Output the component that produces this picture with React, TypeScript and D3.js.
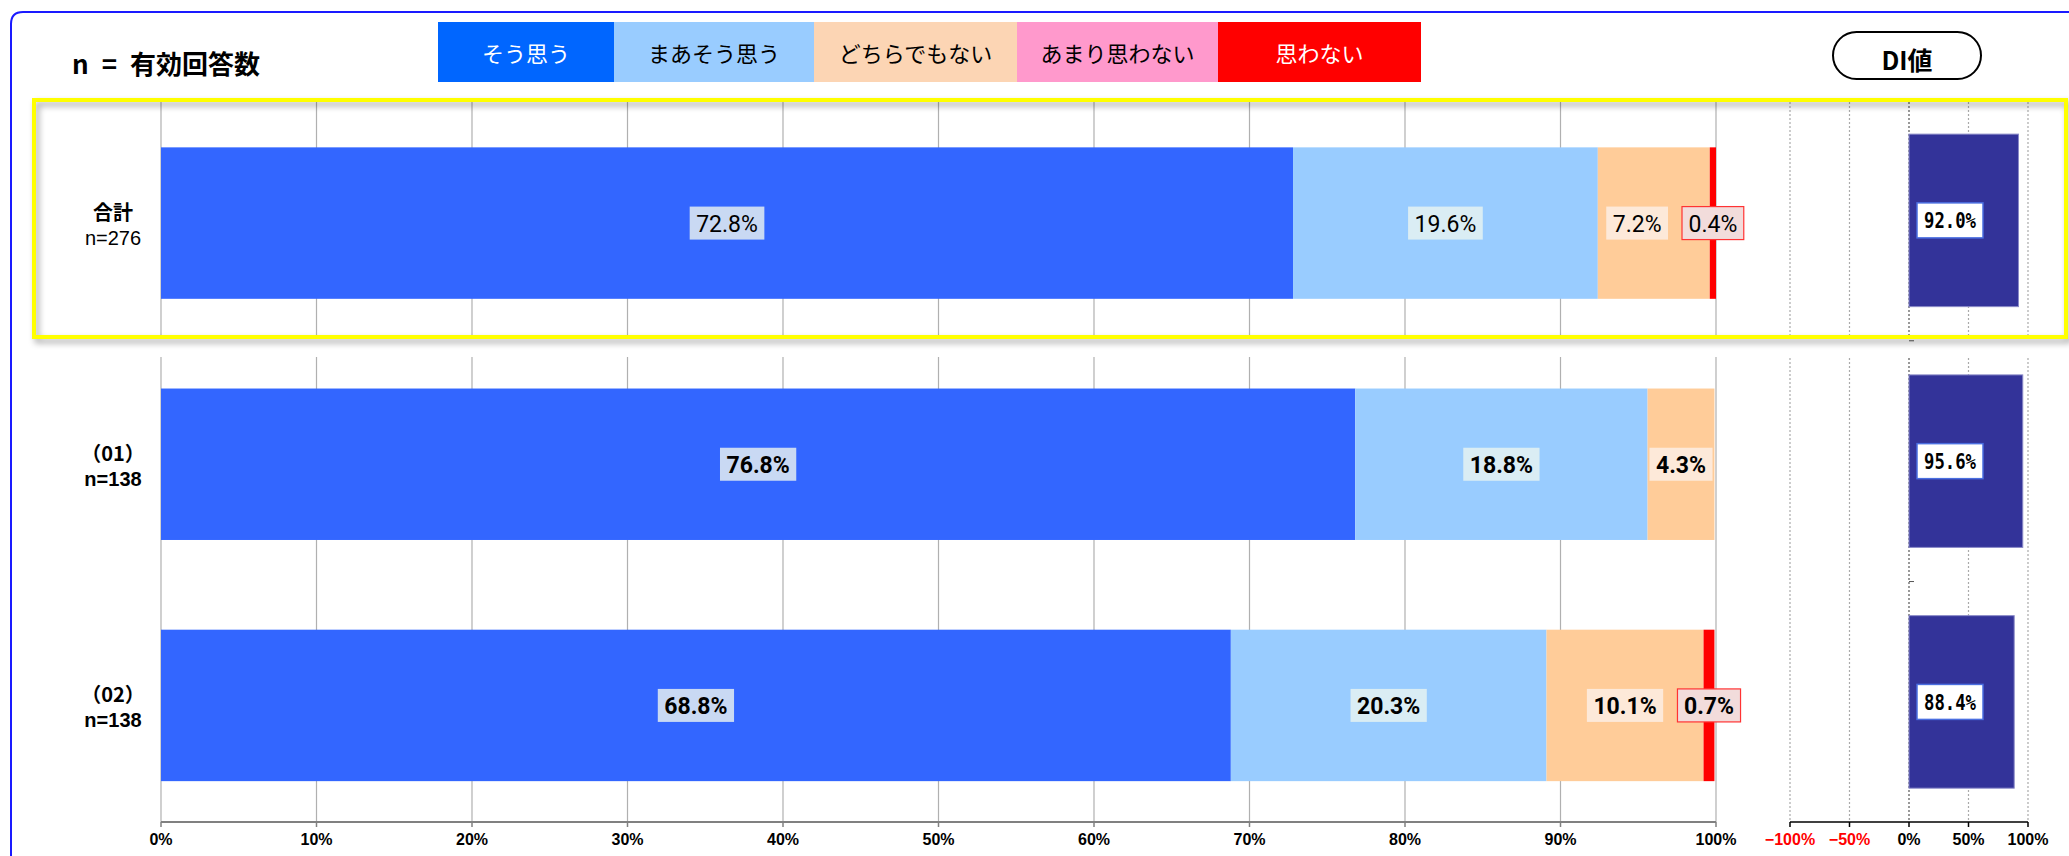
import React from 'react';
import * as d3 from 'd3';

// ---- data ----
const categories = ['合計', '（01）', '（02）'];
const sampleSizes = ['n=276', 'n=138', 'n=138'];
const seriesNames = ['そう思う', 'まあそう思う', 'どちらでもない', 'あまり思わない', '思わない'];
const soOmou = [72.8, 76.8, 68.8];
const maaSoOmou = [19.6, 18.8, 20.3];
const dochiraDemoNai = [7.2, 4.3, 10.1];
const amariOmowanai = [0, 0, 0];
const omowanai = [0.4, 0, 0.7];
const diValues = [92.0, 95.6, 88.4];
const mainTicks = [0, 10, 20, 30, 40, 50, 60, 70, 80, 90, 100];
const diTicks = [-100, -50, 0, 50, 100];
const diTickLabels = ['−100%', '−50%', '0%', '50%', '100%'];

const seriesValues = [soOmou, maaSoOmou, dochiraDemoNai, amariOmowanai, omowanai];

// ---- styles ----
const barColors = ['#3366ff', '#99ccff', '#ffcc99', '#ff99cc', '#ff0000'];
const legendColors = ['#0066ff', '#99ccff', '#fcd5b4', '#ff99cc', '#ff0000'];
const legendTextColors = ['#ffffff', '#000000', '#000000', '#000000', '#ffffff'];
const labelFills = ['#c9d9f3', '#daedf4', '#fde9d9', '#fbe0ee', '#f2dcdb'];
const labelStrokes = ['none', 'none', 'none', 'none', '#ff3333'];
const legendEdges = [438, 614, 814, 1017, 1218, 1421];

const CJK = '"Noto Sans CJK JP", "Noto Sans", sans-serif';
const NUM = 'Roboto, "Noto Sans", sans-serif';
const MONO = '"DejaVu Sans Mono", "Liberation Mono", monospace';
const AX = '"Liberation Sans", Arial, sans-serif';

let ctx: CanvasRenderingContext2D | null = null;
function textWidth(text: string, font: string, fallbackEm: number, size: number) {
  if (typeof document !== 'undefined') {
    if (!ctx) ctx = document.createElement('canvas').getContext('2d');
    if (ctx) {
      ctx.font = font;
      return ctx.measureText(text).width;
    }
  }
  return text.length * fallbackEm * size;
}

export default function App() {
  const W = 2069;
  const H = 856;

  const x = d3.scaleLinear().domain([0, 100]).range([161, 1716]);
  const xd = d3.scaleLinear().domain([-100, 100]).range([1790, 2028]);
  const y = d3.scaleBand<string>().domain(categories).range([102.5, 826]).paddingInner(0.372).paddingOuter(0.186);
  const yd = d3.scaleBand<string>().domain(categories).range([100, 822.3]).paddingInner(0.2835).paddingOuter(0.14175);

  const axisY = 822;
  const gridTop = 102;
  const gapTop = 338;
  const gapBottom = 357;

  const stackData = categories.map((c, i) => {
    const row: any = { cat: c };
    seriesNames.forEach((s, k) => (row[s] = seriesValues[k][i]));
    return row;
  });
  const stack = d3.stack<any>().keys(seriesNames)(stackData);

  const labelSize = 23;
  const rows = categories.map((c, i) => {
    const bold = i > 0;
    const font = `${bold ? 'bold ' : ''}${labelSize}px Roboto`;
    const boxes: any[] = [];
    stack.forEach((layer, k) => {
      const v = seriesValues[k][i];
      if (v <= 0) return;
      const [a, b] = layer[i];
      const cx = (x(a) + x(b)) / 2;
      const text = v.toFixed(1) + '%';
      const w = textWidth(text, font, 0.55, labelSize) + 13;
      boxes.push({ k, text, cx, w, x0: cx - w / 2, x1: cx + w / 2 });
    });
    for (let j = boxes.length - 2; j >= 0; j--) {
      const limit = boxes[j + 1].x0 - 14;
      if (boxes[j].x1 > limit) {
        const d = boxes[j].x1 - limit;
        boxes[j].x0 -= d;
        boxes[j].x1 -= d;
        boxes[j].cx -= d;
      }
    }
    return { boxes, bold };
  });

  const frameColor = '#1a1aff';

  return (
    <svg width={W} height={H} style={{ position: 'absolute', left: 0, top: 0, background: '#fff' }}>
      <defs>
        <filter id="shadow" x="-5%" y="-20%" width="110%" height="140%">
          <feDropShadow dx="3" dy="4" stdDeviation="3" floodColor="#000" floodOpacity="0.35" />
        </filter>
      </defs>
      <rect x={0} y={0} width={W} height={H} fill="#fff" />

      {/* outer frame */}
      <path d={`M11,${H + 20} L11,24 Q11,12 23,12 L${W + 20},12`} fill="none" stroke={frameColor} strokeWidth={2} />

      {/* title */}
      <text x={72} y={62} fontFamily={CJK} fontWeight="bold" fontSize={26} dominantBaseline="central" fill="#000">
        {'n\u2002=\u2002有効回答数'}
      </text>

      {/* legend */}
      {seriesNames.map((s, k) => (
        <g key={s}>
          <rect x={legendEdges[k]} y={22} width={legendEdges[k + 1] - legendEdges[k]} height={60} fill={legendColors[k]} />
          <text
            x={(legendEdges[k] + legendEdges[k + 1]) / 2}
            y={52}
            textAnchor="middle"
            dominantBaseline="central"
            fontFamily={CJK}
            fontSize={22}
            fill={legendTextColors[k]}
          >
            {s}
          </text>
        </g>
      ))}

      {/* DI pill */}
      <rect x={1833} y={32} width={148} height={47} rx={23.5} fill="#fff" stroke="#000" strokeWidth={2} />
      <text x={1907} y={59} textAnchor="middle" dominantBaseline="central" fontFamily={CJK} fontWeight="bold" fontSize={25}>
        DI値
      </text>

      {/* main gridlines */}
      {mainTicks.map((t) => (
        <line key={'g' + t} x1={x(t)} x2={x(t)} y1={gridTop} y2={axisY} stroke="#b0b0b0" strokeWidth={1.2} />
      ))}
      {/* DI gridlines */}
      {diTicks.map((t) => (
        <line
          key={'dg' + t}
          x1={xd(t)}
          x2={xd(t)}
          y1={gridTop}
          y2={axisY}
          stroke={t === 0 ? '#555' : '#aaa'}
          strokeWidth={1.2}
          strokeDasharray="2,2"
        />
      ))}

      {/* gap under highlight box */}
      <rect x={150} y={gapTop} width={1920} height={gapBottom - gapTop} fill="#fff" />

      {/* main bars */}
      {stack.map((layer, k) => (
        <g key={'s' + k} fill={barColors[k]}>
          {layer.map((d, i) =>
            d[1] - d[0] > 0 ? (
              <rect key={i} x={x(d[0])} y={y(categories[i])!} width={x(d[1]) - x(d[0])} height={y.bandwidth()} />
            ) : null
          )}
        </g>
      ))}

      {/* DI bars */}
      {diValues.map((v, i) => (
        <rect
          key={'di' + i}
          x={xd(Math.min(0, v))}
          y={yd(categories[i])!}
          width={Math.abs(xd(v) - xd(0))}
          height={yd.bandwidth()}
          fill="#333399"
          stroke="#8a8ac8"
          strokeWidth={1}
        />
      ))}

      {/* DI category ticks */}
      {categories.slice(1).map((c) => {
        const ty = yd(c)! - (yd.step() - yd.bandwidth()) / 2;
        return <line key={'ct' + c} x1={xd(0)} x2={xd(0) + 5} y1={ty} y2={ty} stroke="#555" strokeWidth={1} />;
      })}

      {/* segment labels */}
      {rows.map((r, i) => {
        const cy = y(categories[i])! + y.bandwidth() / 2;
        return (
          <g key={'lab' + i}>
            {r.boxes.map((b: any) => (
              <g key={b.k}>
                <rect
                  x={b.x0}
                  y={cy - 16.5}
                  width={b.w}
                  height={33}
                  fill={labelFills[b.k]}
                  stroke={labelStrokes[b.k]}
                  strokeWidth={1.2}
                />
                <text
                  x={b.cx}
                  y={cy + 1}
                  textAnchor="middle"
                  dominantBaseline="central"
                  fontFamily={NUM}
                  fontWeight={r.bold ? 'bold' : 'normal'}
                  fontSize={labelSize}
                  fill="#000"
                >
                  {b.text}
                </text>
              </g>
            ))}
          </g>
        );
      })}

      {/* DI labels */}
      {diValues.map((v, i) => {
        const cy = yd(categories[i])! + yd.bandwidth() / 2;
        const text = v.toFixed(1) + '%';
        const tw = 52;
        const w = 66;
        const x0 = xd(0) + 8;
        return (
          <g key={'dl' + i}>
            <rect x={x0} y={cy - 17.5} width={w} height={35} fill="#fff" stroke="#4a6ee0" strokeWidth={1.5} />
            <text
              x={x0 + w / 2}
              y={cy + 1}
              textAnchor="middle"
              dominantBaseline="central"
              fontFamily={MONO}
              fontWeight="bold"
              fontSize={21}
              textLength={tw}
              lengthAdjust="spacingAndGlyphs"
            >
              {text}
            </text>
          </g>
        );
      })}

      {/* category labels */}
      {categories.map((c, i) => {
        const cy = y(c)! + y.bandwidth() / 2;
        return (
          <g key={'cl' + i} textAnchor="middle">
            <text x={113} y={cy - 12} dominantBaseline="central" fontWeight="bold" fontFamily={CJK} fontSize={20}>
              {c}
            </text>
            <text x={113} y={cy + 15} dominantBaseline="central" fontWeight={i === 0 ? 'normal' : 'bold'} fontFamily={AX} fontSize={20}>
              {sampleSizes[i]}
            </text>
          </g>
        );
      })}

      {/* highlight box */}
      <rect x={34} y={100} width={2032} height={237} fill="none" stroke="#ffff00" strokeWidth={4} filter="url(#shadow)" />

      {/* main axis */}
      <line x1={x(0)} x2={x(100)} y1={axisY} y2={axisY} stroke="#808080" strokeWidth={2} />
      {mainTicks.map((t) => (
        <g key={'t' + t}>
          <line x1={x(t)} x2={x(t)} y1={axisY} y2={axisY + 5} stroke="#808080" strokeWidth={1.5} />
          <text x={x(t)} y={839} textAnchor="middle" dominantBaseline="central" fontFamily={AX} fontWeight="bold" fontSize={16} fill="#000">
            {t}%
          </text>
        </g>
      ))}

      {/* DI axis */}
      <line x1={xd(-100)} x2={xd(100)} y1={axisY} y2={axisY} stroke="#000" strokeWidth={1.5} />
      {diTicks.map((t, j) => (
        <g key={'dt' + t}>
          <line x1={xd(t)} x2={xd(t)} y1={axisY} y2={axisY + 5} stroke="#000" strokeWidth={1.5} />
          <text
            x={xd(t)}
            y={839}
            textAnchor="middle"
            dominantBaseline="central"
            fontFamily={AX}
            fontWeight="bold"
            fontSize={16}
            fill={t < 0 ? '#ff0000' : '#000'}
          >
            {diTickLabels[j]}
          </text>
        </g>
      ))}
    </svg>
  );
}
